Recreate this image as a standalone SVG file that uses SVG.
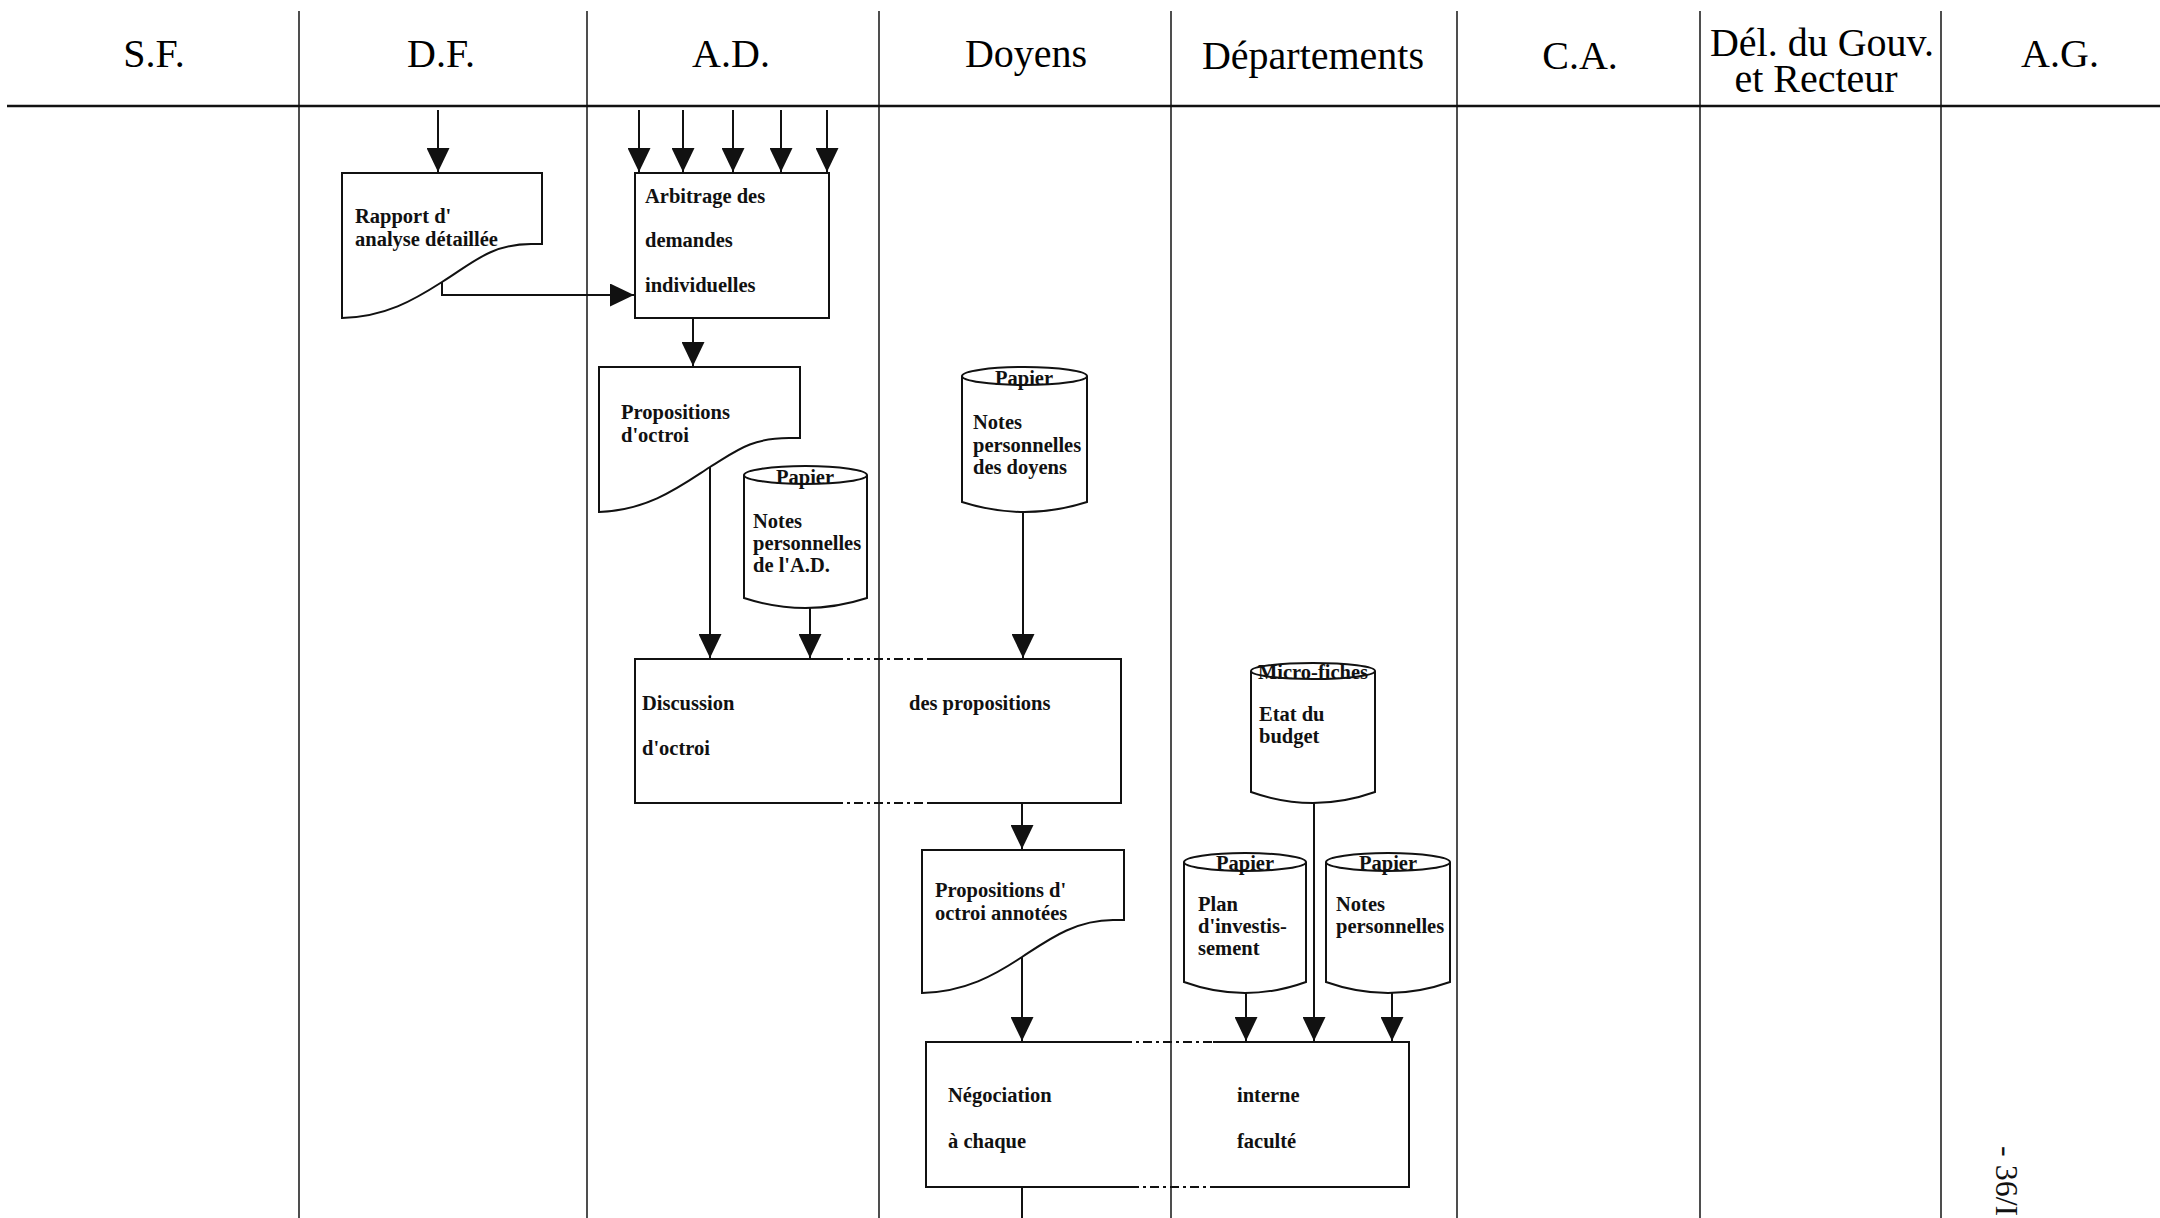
<svg xmlns="http://www.w3.org/2000/svg" width="2160" height="1218" viewBox="0 0 2160 1218">
<style>
.ln{stroke:#111;stroke-width:2;fill:none}
.lane{stroke:#222;stroke-width:1.6;fill:none}
.shp{stroke:#111;stroke-width:2;fill:#fff}
.dash{stroke:#111;stroke-width:2;fill:none;stroke-dasharray:9 4 3 4}
.hd{font-family:"Liberation Serif","Times New Roman",serif;font-size:40px;fill:#000;text-anchor:middle}
.t{font-family:"Liberation Serif","Times New Roman",serif;font-size:20.5px;font-weight:bold;fill:#111}
.c{text-anchor:middle}
</style>
<defs>
<marker id="ah" markerUnits="userSpaceOnUse" markerWidth="24" markerHeight="23" viewBox="0 0 24 23" refX="24" refY="11.5" orient="auto">
<path d="M0,0 L24,11.5 L0,23 z" fill="#111"/>
</marker>
</defs>
<rect x="0" y="0" width="2160" height="1218" fill="#fff"/>

<g id="lanes">
<line class="lane" x1="299" y1="11" x2="299" y2="1218"/>
<line class="lane" x1="587" y1="11" x2="587" y2="1218"/>
<line class="lane" x1="879" y1="11" x2="879" y2="1218"/>
<line class="lane" x1="1171" y1="11" x2="1171" y2="1218"/>
<line class="lane" x1="1457" y1="11" x2="1457" y2="1218"/>
<line class="lane" x1="1700" y1="11" x2="1700" y2="1218"/>
<line class="lane" x1="1941" y1="11" x2="1941" y2="1218"/>
<line x1="7" y1="106" x2="2160" y2="106" stroke="#111" stroke-width="2.6"/>
</g>

<g id="headers">
<text class="hd" x="154" y="67">S.F.</text>
<text class="hd" x="441" y="67">D.F.</text>
<text class="hd" x="731" y="67">A.D.</text>
<text class="hd" x="1026" y="67">Doyens</text>
<text class="hd" x="1313" y="69">Départements</text>
<text class="hd" x="1580" y="69">C.A.</text>
<text class="hd" x="1822" y="56">Dél. du Gouv.</text>
<text class="hd" x="1816" y="92">et Recteur</text>
<text class="hd" x="2060" y="67">A.G.</text>
</g>

<g id="rapport">
<path class="shp" d="M342,173 H542 V244 H531 C490,244 470,265 442,282 C414,300 385,317 342,318 Z"/>
<text class="t" x="355" y="223">Rapport d'</text>
<text class="t" x="355" y="246">analyse détaillée</text>
</g>

<g id="arbitrage">
<rect class="shp" x="635" y="173" width="194" height="145"/>
<text class="t" x="645" y="203">Arbitrage des</text>
<text class="t" x="645" y="247">demandes</text>
<text class="t" x="645" y="292">individuelles</text>
</g>

<g id="propositions">
<path class="shp" d="M599,367 H800 V438 H789 C750,438 735,452 710,467 C682,485 650,510 599,512 Z"/>
<text class="t" x="621" y="419">Propositions</text>
<text class="t" x="621" y="442">d'octroi</text>
</g>

<g id="notes-ad">
<path class="shp" d="M744,475 V598 Q805.5,618 867,598 V475"/>
<ellipse class="shp" cx="805.5" cy="475" rx="61.5" ry="9"/>
<text class="t c" x="805" y="484">Papier</text>
<text class="t" x="753" y="528">Notes</text>
<text class="t" x="753" y="550">personnelles</text>
<text class="t" x="753" y="572">de l'A.D.</text>
</g>

<g id="notes-doyens">
<path class="shp" d="M962,376 V502 Q1024.5,522 1087,502 V376"/>
<ellipse class="shp" cx="1024.5" cy="376" rx="62.5" ry="9"/>
<text class="t c" x="1024" y="385">Papier</text>
<text class="t" x="973" y="429">Notes</text>
<text class="t" x="973" y="452">personnelles</text>
<text class="t" x="973" y="474">des doyens</text>
</g>

<g id="discussion">
<path class="ln" d="M834,659 H635 V803 H834"/>
<path class="ln" d="M927,659 H1121 V803 H927"/>
<path class="dash" d="M834,659 H927 M834,803 H927"/>
<text class="t" x="642" y="710">Discussion</text>
<text class="t" x="642" y="755">d'octroi</text>
<text class="t" x="909" y="710">des propositions</text>
</g>

<g id="microfiches">
<path class="shp" d="M1251,671 V792 Q1313,814 1375,792 V671"/>
<ellipse class="shp" cx="1313" cy="671" rx="62" ry="8"/>
<text class="t c" x="1313" y="679">Micro-fiches</text>
<text class="t" x="1259" y="721">Etat du</text>
<text class="t" x="1259" y="743">budget</text>
</g>

<g id="propositions-annotees">
<path class="shp" d="M922,850 H1124 V920 H1113 C1075,920 1048,940 1022,957 C995,975 965,992 922,993 Z"/>
<text class="t" x="935" y="897">Propositions d'</text>
<text class="t" x="935" y="920">octroi annotées</text>
</g>

<g id="plan">
<path class="shp" d="M1184,862 V982 Q1245,1004 1306,982 V862"/>
<ellipse class="shp" cx="1245" cy="862" rx="61" ry="9"/>
<text class="t c" x="1245" y="870">Papier</text>
<text class="t" x="1198" y="911">Plan</text>
<text class="t" x="1198" y="933">d'investis-</text>
<text class="t" x="1198" y="955">sement</text>
</g>

<g id="notes-dep">
<path class="shp" d="M1326,862 V982 Q1388,1004 1450,982 V862"/>
<ellipse class="shp" cx="1388" cy="862" rx="62" ry="9"/>
<text class="t c" x="1388" y="870">Papier</text>
<text class="t" x="1336" y="911">Notes</text>
<text class="t" x="1336" y="933">personnelles</text>
</g>

<g id="negociation">
<path class="ln" d="M1123,1042 H926 V1187 H1130"/>
<path class="ln" d="M1213,1042 H1409 V1187 H1213"/>
<path class="dash" d="M1123,1042 H1213 M1130,1187 H1213"/>
<text class="t" x="948" y="1102">Négociation</text>
<text class="t" x="948" y="1148">à chaque</text>
<text class="t" x="1237" y="1102">interne</text>
<text class="t" x="1237" y="1148">faculté</text>
</g>

<g id="connectors">
<line class="ln" x1="438" y1="110" x2="438" y2="172" marker-end="url(#ah)"/>
<line class="ln" x1="639" y1="110" x2="639" y2="172" marker-end="url(#ah)"/>
<line class="ln" x1="683" y1="110" x2="683" y2="172" marker-end="url(#ah)"/>
<line class="ln" x1="733" y1="110" x2="733" y2="172" marker-end="url(#ah)"/>
<line class="ln" x1="781" y1="110" x2="781" y2="172" marker-end="url(#ah)"/>
<line class="ln" x1="827" y1="110" x2="827" y2="172" marker-end="url(#ah)"/>
<path class="ln" d="M442,282 V295 H634" marker-end="url(#ah)"/>
<line class="ln" x1="693" y1="318" x2="693" y2="366" marker-end="url(#ah)"/>
<line class="ln" x1="710" y1="467" x2="710" y2="658" marker-end="url(#ah)"/>
<line class="ln" x1="810" y1="608" x2="810" y2="658" marker-end="url(#ah)"/>
<line class="ln" x1="1023" y1="512" x2="1023" y2="658" marker-end="url(#ah)"/>
<line class="ln" x1="1022" y1="803" x2="1022" y2="849" marker-end="url(#ah)"/>
<line class="ln" x1="1022" y1="957" x2="1022" y2="1041" marker-end="url(#ah)"/>
<line class="ln" x1="1246" y1="993" x2="1246" y2="1041" marker-end="url(#ah)"/>
<line class="ln" x1="1314" y1="803" x2="1314" y2="1041" marker-end="url(#ah)"/>
<line class="ln" x1="1392" y1="993" x2="1392" y2="1041" marker-end="url(#ah)"/>
<line class="ln" x1="1022" y1="1187" x2="1022" y2="1218"/>
</g>

<text transform="translate(1996,1146) rotate(90)" font-family="Liberation Serif,'Times New Roman',serif" font-size="32" fill="#111">- 36/I</text>
</svg>
